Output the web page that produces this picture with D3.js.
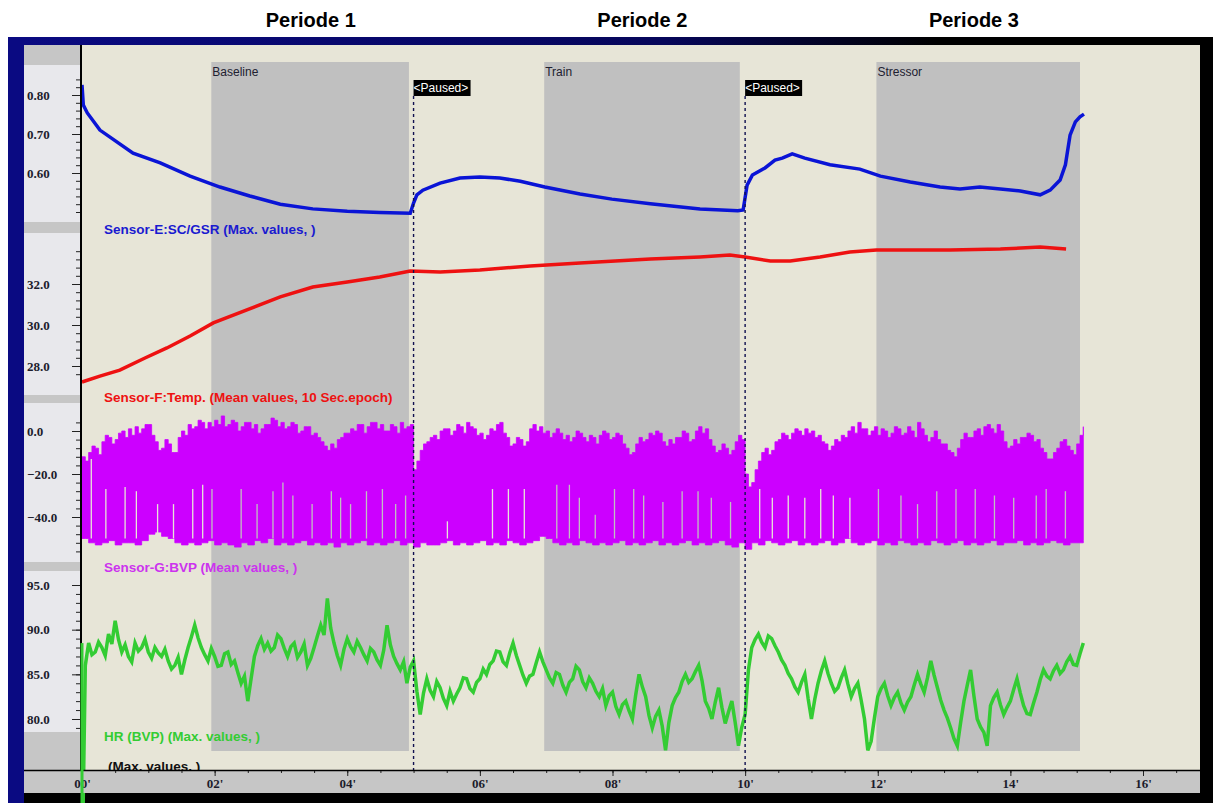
<!DOCTYPE html>
<html>
<head>
<meta charset="utf-8">
<script src="https://cdn.jsdelivr.net/npm/d3@7/dist/d3.min.js"></script>
<style>
body { margin: 0; background: #fff; }
svg { display: block; }
</style>
</head>
<body>
<svg id="chart" width="1213" height="803"></svg>
<script>
// --- data (time in minutes) ---
var periods = ['Periode 1', 'Periode 2', 'Periode 3'];
var periodCenters = [3.45, 8.45, 13.45];

var segmentNames = ['Baseline', 'Train', 'Stressor'];
var segmentStart = [1.95, 6.97, 11.98];
var segmentEnd = [4.93, 9.92, 15.05];
var pauses = [5.0, 10.0];

var timeTicks = [0, 2, 4, 6, 8, 10, 12, 14, 16];
var scTicks = [0.6, 0.7, 0.8];
var tempTicks = [28, 30, 32];
var bvpTicks = [-40, -20, 0];
var hrTicks = [80, 85, 90, 95];

// Sensor-E SC/GSR  [minute, value]
var scPoints = [[0,0.826],[0.02,0.774],[0.08,0.754],[0.27,0.710],[0.77,0.651],[1.18,0.626],
    [1.63,0.592],[2.08,0.564],[2.53,0.541],[2.99,0.520],[3.48,0.508],[4.0,0.502],[4.49,0.499],
    [4.95,0.497],[5.0,0.523],[5.05,0.544],[5.14,0.556],[5.40,0.574],[5.70,0.587],[6.0,0.590],
    [6.30,0.587],[6.61,0.579],[6.98,0.564],[7.51,0.546],[7.99,0.533],[8.57,0.521],[9.32,0.508],
    [9.89,0.503],[9.97,0.505],[10.03,0.569],[10.11,0.595],[10.30,0.613],[10.45,0.633],
    [10.56,0.638],[10.71,0.649],[10.90,0.638],[11.28,0.621],[11.73,0.610],[12.04,0.592],
    [12.49,0.577],[12.94,0.564],[13.24,0.559],[13.54,0.564],[13.85,0.559],[14.15,0.554],
    [14.45,0.544],[14.60,0.556],[14.75,0.582],[14.83,0.621],[14.90,0.697],[14.98,0.731],
    [15.05,0.744],[15.11,0.751]];

// Sensor-F Temp  [minute, value]
var tempPoints = [[0,27.22],[0.27,27.51],[0.57,27.80],[0.95,28.39],[1.28,28.88],[1.63,29.46],
    [1.98,30.10],[2.68,30.98],[2.99,31.37],[3.48,31.85],[4.0,32.1],[4.49,32.34],[4.95,32.63],
    [5.40,32.59],[5.70,32.63],[6.0,32.68],[6.76,32.88],[7.51,33.02],[8.57,33.22],[9.32,33.32],
    [9.77,33.41],[10.0,33.32],[10.38,33.12],[10.68,33.12],[11.13,33.32],[11.58,33.56],
    [11.98,33.66],[13.09,33.66],[13.85,33.71],[14.45,33.80],[14.84,33.71]];

// Sensor-G BVP: beat maxima every 0.05 min (one row per minute)
var bvpStep = 0.05;
var bvpMax = [
    -12,-14,-10,-7,-8,-11,-5,-2,-3,-6,-4,-1,0,-3,1,-2,2,-1,1,3,
    3,-2,-5,-9,-8,-4,-6,-10,-10,-3,0,-2,3,1,2,5,4,1,4,2,
    5,3,7,2,3,5,4,0,2,4,4,1,3,-1,1,3,3,6,5,2,
    4,1,2,4,3,-1,0,2,2,-2,-1,-3,-5,-7,-9,-6,-8,-4,-3,-1,
    -1,1,0,3,3,-1,2,4,4,1,3,0,0,3,2,-1,4,1,2,3,
    -18,-14,-9,-6,-5,-3,-2,-4,0,1,1,-2,0,3,2,-1,4,2,1,-2,
    -1,-4,-2,1,0,3,4,-1,-3,-7,-6,-3,-4,-7,-5,1,3,0,2,-1,
    0,-3,-1,1,-1,-4,-2,-5,-3,0,-1,-3,-5,-2,-3,-6,-2,0,-1,-4,
    -3,-1,-2,-6,-8,-11,-10,-6,-3,-5,-4,-1,-2,0,-1,-5,-7,-4,-6,-3,
    -3,0,-1,-5,-4,0,2,-1,1,-4,-7,-10,-9,-6,-8,-11,-9,-5,-2,-4,
    -20,-26,-24,-18,-14,-10,-8,-11,-9,-5,-4,-1,-2,-4,-1,1,0,-2,1,-1,
    0,-3,-2,-5,-6,-9,-7,-4,-5,-2,-3,0,2,-1,4,1,1,-2,0,2,
    -2,1,0,-3,-1,2,1,-2,-1,2,0,-3,4,1,-2,-5,-3,0,-4,-6,
    -6,-9,-10,-12,-8,-4,-1,-3,-3,0,1,-2,2,3,1,-1,3,0,-5,-8,
    -7,-4,-6,-3,-3,-1,-2,-5,-4,-8,-10,-13,-13,-10,-8,-5,-4,-7,-9,-11,
    -6,-2,2];
// beat minima every 0.1 min
var bvpMinStep = 0.1;
var bvpMin = [-50,-52,-53,-52,-51,-53,-52,-52,-53,-51,
    -48,-47,-49,-50,-52,-53,-52,-53,-52,-51,
    -53,-52,-53,-54,-52,-53,-51,-52,-50,-53,
    -52,-53,-52,-51,-53,-52,-53,-52,-54,-52,
    -53,-52,-51,-53,-52,-53,-52,-51,-53,-52,
    -54,-52,-53,-53,-52,-51,-53,-52,-53,-52,
    -51,-53,-52,-53,-51,-52,-53,-52,-51,-49,
    -50,-52,-53,-52,-53,-51,-52,-53,-52,-53,
    -52,-51,-53,-52,-53,-52,-51,-53,-52,-53,
    -52,-51,-53,-52,-53,-52,-51,-53,-54,-52,
    -55,-52,-53,-51,-52,-53,-52,-51,-53,-52,
    -53,-52,-51,-53,-52,-50,-52,-53,-52,-51,
    -53,-52,-53,-51,-52,-53,-52,-53,-51,-52,
    -53,-52,-51,-53,-52,-53,-52,-51,-53,-52,
    -52,-51,-53,-52,-53,-52,-51,-52,-53,-52,
    -52,-51];
// single beats whose minimum stayed high: [minute, value]
var bvpGaps = [[0.14,-13],[0.36,-27],[0.65,-26],[0.82,-28],[1.14,-34],[1.38,-34],[1.67,-27],
    [1.82,-25],[1.96,-27],[2.40,-27],[2.64,-34],[2.88,-28],[3.03,-24],[3.18,-30],[3.47,-34],
    [3.76,-28],[3.90,-31],[4.05,-34],[4.29,-28],[4.53,-27],[4.73,-34],[4.88,-30],[5.51,-42],
    [6.19,-27],[6.43,-27],[6.67,-27],[7.16,-25],[7.35,-25],[7.50,-31],[7.74,-39],[8.03,-27],
    [8.32,-27],[8.47,-30],[8.76,-33],[9.05,-28],[9.29,-28],[9.49,-31],[9.78,-33],[10.22,-27],
    [10.41,-31],[10.65,-30],[10.90,-31],[11.14,-27],[11.33,-30],[11.58,-31],[12.01,-27],
    [12.35,-30],[12.60,-34],[12.89,-28],[13.18,-27],[13.47,-27],[13.76,-30],[14.05,-31],
    [14.39,-30],[14.54,-27],[14.83,-28]];

// HR (BVP), one sample every 0.05 min (one row per minute)
var hrStep = 0.05;
var hrValues = [
    62,86,88.5,87.2,87.5,88.6,88,87.1,89.5,88.4,91,88.9,87.5,88.3,87,86.4,88.5,87.6,88,88.9,
    87.5,86.8,88,87.4,87,87.8,86.5,85.6,86,86.9,85,86.6,88,89.2,90.5,89.1,88,87.2,86.5,87.9,
    87,85.9,86,87.3,87.5,86.1,86.5,85.2,84,84.8,82,84.5,87,88.2,89,87.8,88.5,87.6,88,89.4,
    89,87.9,87,88.1,88.5,86.9,87.5,88.4,86,86.8,88,89.3,90.5,89.4,93.5,90.2,88.5,87.1,86,87.8,
    89,88.1,87.5,88.7,88,87.2,86.5,87.9,87.5,86.6,86,87.7,90.5,88.3,87,86.2,85.5,86.4,84,85.8,
    86.5,83.1,80.5,82.9,84.5,83.2,82.5,84.2,83.5,82.3,81.5,83.1,82,82.8,83.5,84.6,84.5,83.4,83,84.1,
    84.5,85.6,85,86.1,86.5,87.6,87.5,86.4,86,87.4,88.5,87.1,86,84.9,84,84.8,85,86.3,87.5,86.4,
    85.5,84.6,84,85.2,85,83.8,83,84.1,84.5,85.9,85.5,84.2,83.5,84.6,84,83.1,82.5,83.4,81.5,82.6,
    83,81.4,80.5,81.6,82,80.9,80,82.7,85,83.6,82.5,80.4,79,80.3,81,79.2,76.5,79.6,81.5,82.4,
    83,84.2,85,84.1,84.5,85.3,86,84.3,82,81.2,80,81.9,83.5,81.3,79.5,80.8,82,79.6,77,79.1,
    80.5,85.5,88,88.9,89.5,88.6,88,89.3,89,88.2,87.5,86.6,86,85.1,84.5,83.6,83,84.1,85,82.3,
    80,82.2,84,85.4,86.5,85.1,84,83.1,83.5,84.6,85.5,83.9,82.5,83.4,84,82.1,80,76.5,77.5,80.1,
    82.5,83.4,84,82.6,81.5,82.4,83,81.8,81,81.9,82.5,83.8,85,83.9,83,84.6,86.5,84.9,83.5,82.1,
    81,80.1,79,77.8,77,79.6,82,83.8,85.5,82.6,80,79.1,78.5,77,81.5,82.4,83,81.6,80.5,81.3,
    82,83.3,84.5,82.9,81.5,80.6,80.5,81.8,83,84.4,85.5,84.8,84.5,85.4,86,85.1,85.5,86.4,87,86.1,
    86,87.3,88.5];

// --- layout ---
var beige = '#e7e5d7';
var shade = '#c0c0c0';
var panelGray = '#c6c6c6';
var panelLight = '#e8e8ec';
var captionFont = 'bold 13.5px "Liberation Sans", Arial, sans-serif';
var tickFont = 'bold 13px "Liberation Serif", "Times New Roman", serif';

var x = d3.scaleLinear().domain([0, 16]).range([82, 1143]);
var ySC = d3.scaleLinear().domain([0.6, 0.8]).range([173, 95]);
var yTemp = d3.scaleLinear().domain([28, 32]).range([366, 284]);
var yBVP = d3.scaleLinear().domain([-40, 0]).range([517, 431]);
var yHR = d3.scaleLinear().domain([80, 95]).range([719, 585]);

var svg = d3.select('#chart');

// page titles
svg.selectAll('text.period')
    .data(periods)
    .join('text')
    .classed('period', true)
    .attr('x', function(d, i) { return x(periodCenters[i]); })
    .attr('y', 27)
    .attr('text-anchor', 'middle')
    .style('font', 'bold 20px "Liberation Sans", Arial, sans-serif')
    .text(function(d) { return d; });

// window frame
var defs = svg.append('defs');
var grad = defs.append('linearGradient').attr('id', 'topband');
grad.append('stop').attr('offset', '0%').attr('stop-color', '#0a0a82');
grad.append('stop').attr('offset', '55%').attr('stop-color', '#06065a');
grad.append('stop').attr('offset', '78%').attr('stop-color', '#000000');

svg.append('rect').attr('x', 8).attr('y', 37).attr('width', 1205).attr('height', 766).attr('fill', '#000');
svg.append('rect').attr('x', 8).attr('y', 37).attr('width', 1192).attr('height', 8).attr('fill', 'url(#topband)');
svg.append('rect').attr('x', 8).attr('y', 37).attr('width', 16).attr('height', 766).attr('fill', '#0a0a82');

// left axis panel
svg.append('rect').attr('x', 24).attr('y', 45).attr('width', 58).attr('height', 725).attr('fill', panelGray);
var panelBands = [[65, 222], [233, 395], [403, 562], [571, 732]];
svg.selectAll('rect.band')
    .data(panelBands)
    .join('rect')
    .classed('band', true)
    .attr('x', 24).attr('width', 57)
    .attr('y', function(d) { return d[0]; })
    .attr('height', function(d) { return d[1] - d[0]; })
    .attr('fill', panelLight);

// plot background
svg.append('rect').attr('x', 82).attr('y', 45).attr('width', 1118).attr('height', 725).attr('fill', beige);

// segments
svg.selectAll('rect.segment')
    .data(segmentNames)
    .join('rect')
    .classed('segment', true)
    .attr('x', function(d, i) { return x(segmentStart[i]); })
    .attr('width', function(d, i) { return x(segmentEnd[i]) - x(segmentStart[i]); })
    .attr('y', 62)
    .attr('height', 689)
    .attr('fill', shade);

svg.selectAll('text.segment')
    .data(segmentNames)
    .join('text')
    .classed('segment', true)
    .attr('x', function(d, i) { return x(segmentStart[i]) + 1; })
    .attr('y', 76)
    .attr('fill', '#202030')
    .style('font', '12px "Liberation Sans", Arial, sans-serif')
    .text(function(d) { return d; });

function inSegment(t) {
    for (var i = 0; i < segmentStart.length; i++) {
        if (t >= segmentStart[i] && t <= segmentEnd[i]) return true;
    }
    return false;
}

// BVP band
function bvpMinAt(i) {
    var k = Math.floor(i * bvpStep / bvpMinStep + 1e-6);
    return bvpMin[Math.min(k, bvpMin.length - 1)];
}

var bvpArea = d3.area()
    .curve(d3.curveStepAfter)
    .x(function(d, i) { return x(i * bvpStep); })
    .y0(function(d, i) { return yBVP(bvpMinAt(i)); })
    .y1(function(d) { return yBVP(d); });

svg.append('path')
    .datum(bvpMax)
    .attr('d', bvpArea)
    .attr('fill', '#cc00ff')
    .attr('stroke', '#cc00ff')
    .attr('stroke-width', 0.8);

svg.selectAll('line.gap')
    .data(bvpGaps)
    .join('line')
    .classed('gap', true)
    .attr('x1', function(d) { return x(d[0]); })
    .attr('x2', function(d) { return x(d[0]); })
    .attr('y1', yBVP(-50))
    .attr('y2', function(d) { return yBVP(d[1]); })
    .attr('stroke', function(d) { return inSegment(d[0]) ? shade : beige; })
    .attr('stroke-width', 1.3);

// SC / Temp / HR lines
function pairLine(scale) {
    return d3.line()
        .x(function(d) { return x(d[0]); })
        .y(function(d) { return scale(d[1]); });
}

svg.append('path')
    .datum(tempPoints)
    .attr('d', pairLine(yTemp))
    .attr('fill', 'none')
    .attr('stroke', '#ee1111')
    .attr('stroke-width', 3.5);

svg.append('path')
    .datum(scPoints)
    .attr('d', pairLine(ySC))
    .attr('fill', 'none')
    .attr('stroke', '#0a14d6')
    .attr('stroke-width', 3.5);

var hrLine = d3.line()
    .x(function(d, i) { return x(i * hrStep); })
    .y(function(d) { return yHR(d); });

svg.append('path')
    .datum(hrValues)
    .attr('d', hrLine)
    .attr('fill', 'none')
    .attr('stroke', '#33cc33')
    .attr('stroke-width', 3.5);

// pause markers
svg.selectAll('line.pause')
    .data(pauses)
    .join('line')
    .classed('pause', true)
    .attr('x1', function(d) { return x(d); })
    .attr('x2', function(d) { return x(d); })
    .attr('y1', 96)
    .attr('y2', 770)
    .attr('stroke', '#101050')
    .attr('stroke-width', 1.4)
    .attr('stroke-dasharray', '3,3');

svg.selectAll('rect.pause')
    .data(pauses)
    .join('rect')
    .classed('pause', true)
    .attr('x', function(d) { return x(d); })
    .attr('y', 80)
    .attr('width', 57)
    .attr('height', 16)
    .attr('fill', '#000');

svg.selectAll('text.pause')
    .data(pauses)
    .join('text')
    .classed('pause', true)
    .attr('x', function(d) { return x(d); })
    .attr('y', 92)
    .attr('fill', '#fff')
    .style('font', '12px "Liberation Sans", Arial, sans-serif')
    .text('<Paused>');

// channel captions
var captions = [
    { text: 'Sensor-E:SC/GSR (Max. values, )', y: 234, color: '#1a1ad0' },
    { text: 'Sensor-F:Temp. (Mean values, 10 Sec.epoch)', y: 402, color: '#ee1111' },
    { text: 'Sensor-G:BVP (Mean values, )', y: 572, color: '#cc33ee' },
    { text: 'HR (BVP) (Max. values, )', y: 741, color: '#33cc33' },
    { text: '(Max. values, )', y: 771, color: '#111', x: 108 }
];
svg.selectAll('text.caption')
    .data(captions)
    .join('text')
    .classed('caption', true)
    .attr('x', function(d) { return d.x || 104; })
    .attr('y', function(d) { return d.y; })
    .attr('fill', function(d) { return d.color; })
    .style('font', captionFont)
    .text(function(d) { return d.text; });

// left axes
var fmt2 = d3.format('.2f');
var fmt1 = d3.format('.1f');
var leftAxes = [
    { scale: ySC, major: scTicks, minor: d3.range(0.50, 0.845, 0.02), fmt: fmt2 },
    { scale: yTemp, major: tempTicks, minor: d3.range(27.6, 33.7, 0.4), fmt: fmt1 },
    { scale: yBVP, major: bvpTicks, minor: d3.range(-56, 5, 4), fmt: fmt1 },
    { scale: yHR, major: hrTicks, minor: d3.range(79, 95.5, 1), fmt: fmt1 }
];

leftAxes.forEach(function(a) {
    var g = svg.append('g').attr('transform', 'translate(81,0)');
    g.append('g')
        .call(d3.axisLeft(a.scale).tickValues(a.minor).tickSize(5).tickFormat(''))
        .call(function(s) { s.select('.domain').remove(); });
    var gm = g.append('g')
        .call(d3.axisLeft(a.scale).tickValues(a.major).tickSize(9).tickFormat(a.fmt))
        .call(function(s) { s.select('.domain').remove(); });
    gm.selectAll('text')
        .attr('x', -54)
        .attr('text-anchor', 'start')
        .attr('fill', '#1c1c2c')
        .style('font', tickFont);
    g.selectAll('line').attr('stroke', '#222');
});

svg.append('line')
    .attr('x1', 81).attr('x2', 81)
    .attr('y1', 45).attr('y2', 770)
    .attr('stroke', '#000')
    .attr('stroke-width', 2);

// bottom time axis
svg.append('rect').attr('x', 24).attr('y', 770).attr('width', 1176).attr('height', 23).attr('fill', panelGray);

var gx = svg.append('g').attr('transform', 'translate(0,770)');
gx.append('g')
    .call(d3.axisBottom(x).tickValues(d3.range(0, 16.6, 0.5)).tickSize(3).tickFormat(''))
    .call(function(s) { s.select('.domain').remove(); });
var gxm = gx.append('g')
    .call(d3.axisBottom(x).tickValues(timeTicks).tickSize(6)
        .tickFormat(function(d) { return d3.format('02d')(d) + "'"; }))
    .call(function(s) { s.select('.domain').remove(); });
gxm.selectAll('text')
    .attr('fill', '#1c1c2c')
    .style('font', tickFont);
gx.selectAll('line').attr('stroke', '#222');

svg.append('line')
    .attr('x1', 24).attr('x2', 1200)
    .attr('y1', 770.5).attr('y2', 770.5)
    .attr('stroke', '#000')
    .attr('stroke-width', 1.5);

// HR trace enters from below the frame at 0'
svg.append('line')
    .attr('x1', x(0)).attr('x2', x(0))
    .attr('y1', yHR(hrValues[2]))
    .attr('y2', 803)
    .attr('stroke', '#33cc33')
    .attr('stroke-width', 3);
</script>
</body>
</html>
